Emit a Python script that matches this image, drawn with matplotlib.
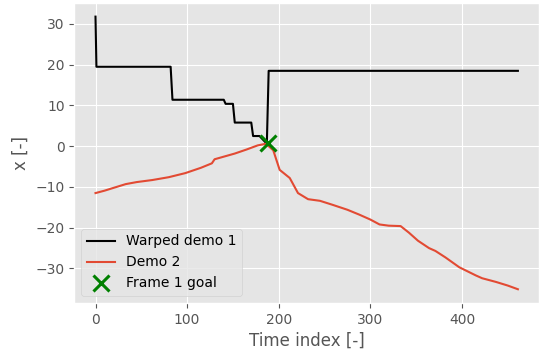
import matplotlib
matplotlib.use("Agg")
import matplotlib.pyplot as plt
import numpy as np

plt.style.use("ggplot")

# warped demo 1 (step-like after time warping)
warp_t = [0, 1, 82, 84, 140, 142, 150, 152, 170, 172, 179, 187, 189, 461]
warp_x = [31.8, 19.5, 19.5, 11.4, 11.4, 10.4, 10.4, 5.8, 5.8, 2.5, 2.5, 0.6, 18.5, 18.5]

# demo 2
demo_t = [0, 10, 20, 33, 45, 62, 80, 98, 115, 127, 130, 152, 165, 177, 186,
          194, 201, 212, 221, 232, 245, 259, 275, 288, 300, 310, 320, 333,
          342, 352, 364, 371, 382, 397, 415, 422, 437, 450, 461]
demo_x = [-11.5, -10.9, -10.2, -9.3, -8.8, -8.3, -7.6, -6.6, -5.3, -4.2, -3.2,
          -1.8, -0.8, 0.2, 0.6, -1.0, -5.8, -7.8, -11.5, -13.0, -13.4, -14.4,
          -15.6, -16.8, -18.0, -19.2, -19.5, -19.6, -21.2, -23.2, -25.0, -25.7,
          -27.3, -29.7, -31.7, -32.4, -33.3, -34.2, -35.1]

goal_t = [188]
goal_x = [0.7]

fig = plt.figure(figsize=(5.39, 3.53), dpi=100)
ax = fig.add_axes([0.138, 0.142, 0.862, 0.8495])
ax.plot(warp_t, warp_x, color="k", lw=1.5, label="Warped demo 1")
ax.plot(demo_t, demo_x, color="#E24A33", lw=1.5, label="Demo 2")
ax.plot(goal_t, goal_x, "x", color="green", ms=12, mew=2.2, label="Frame 1 goal")
ax.set_xlabel("Time index [-]")
ax.set_ylabel("x [-]")
ax.legend(loc="lower left")
fig.savefig("out.png", dpi=100)
